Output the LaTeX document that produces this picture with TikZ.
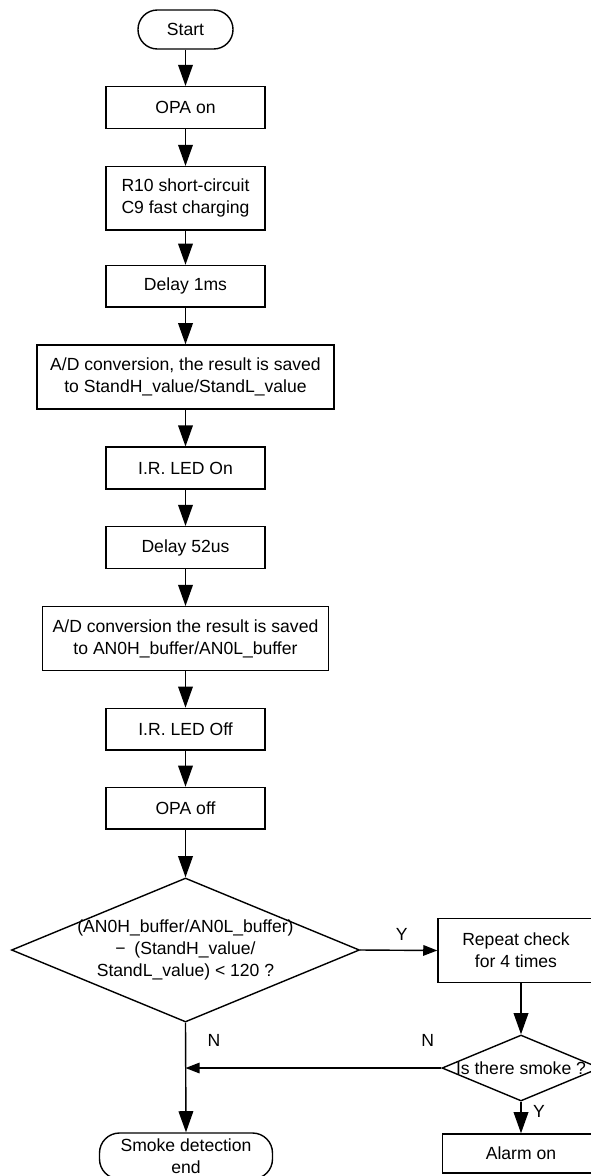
\documentclass[tikz,border=0pt]{standalone}
\usepackage{fontspec}
\setmainfont{Liberation Sans}
\usetikzlibrary{arrows.meta,shapes.geometric}

\tikzset{
	proc/.style={draw, line width=1.2pt, minimum width=4.77cm, minimum height=1.25cm, inner sep=0pt, align=center},
	term/.style={draw, line width=1.2pt, rounded corners=0.58cm, minimum width=2.85cm, minimum height=1.17cm, inner sep=0pt, align=center},
	decision/.style={draw, diamond, line width=1.2pt, inner sep=0pt},
	flow/.style={line width=1.2pt, -{Triangle[length=18pt, width=12.5pt]}},
	sideflow/.style={line width=1.2pt, -{Triangle[length=12pt, width=9pt]}},
	mark label/.style={inner sep=0pt}
}

\begin{document}
\begin{tikzpicture}[x=0.03cm, y=-0.03cm, font=\fontsize{15}{18.8}\selectfont]
		%%%%% START %%%%%
		
		\clip (0, 0) rectangle (591, 1176);
		\fill[white] (0, 0) rectangle (591, 1176);
		
		\node[term] (start) at (185.5, 29.5) {Start};
		\node[proc] (opaon) at (185.5, 107.5) {OPA on};
		\node[proc, minimum height=1.9cm] (r10) at (185.5, 198.3) {R10 short-circuit\\C9 fast charging};
		\node[proc] (delayms) at (185.5, 286.3) {Delay 1ms};
		\node[proc, minimum width=8.91cm, minimum height=1.92cm] (adcstand) at (185.5, 377) {A/D conversion, the result is saved\\to StandH\_value/StandL\_value};
		\node[proc] (ledon) at (185.5, 468) {I.R. LED On};
		\node[proc] (delayus) at (185.5, 547.5) {Delay 52us};
		\node[proc, minimum width=8.57cm, minimum height=1.92cm] (adcbuf) at (185.5, 638.7) {A/D conversion the result is saved\\to AN0H\_buffer/AN0L\_buffer};
		\node[proc] (ledoff) at (185.5, 729.2) {I.R. LED Off};
		\node[proc] (opaoff) at (185.5, 808.3) {OPA off};
		
		\node[decision, minimum width=10.44cm, minimum height=4.32cm] (cmp) at (185.5, 950) {};
		\node[align=center, inner sep=0pt] (cmptext) at (cmp.center) {(AN0H\_buffer/AN0L\_buffer)\\−\enspace(StandH\_value/\\StandL\_value) < 120 ?};
		
		\node[proc, minimum width=4.68cm, minimum height=1.93cm] (repeat) at (516, 950.5) {Repeat check\\for 4 times};
		\node[decision, minimum width=4.74cm, minimum height=1.98cm] (smoke) at (521, 1068) {};
		\node[inner sep=0pt] (smoketext) at (smoke.center) {Is there smoke ?};
		\node[proc, minimum width=4.7cm, minimum height=1.17cm] (alarm) at (521, 1153.5) {Alarm on};
		\node[term, minimum width=5.19cm, minimum height=1.38cm, rounded corners=0.6cm] (stop) at (186, 1156) {Smoke detection\\end};
		
		% main column
		\draw[flow] (start) -- (opaon);
		\draw[flow] (opaon) -- (r10);
		\draw[flow] (r10) -- (delayms);
		\draw[flow] (delayms) -- (adcstand);
		\draw[flow] (adcstand) -- (ledon);
		\draw[flow] (ledon) -- (delayus);
		\draw[flow] (delayus) -- (adcbuf);
		\draw[flow] (adcbuf) -- (ledoff);
		\draw[flow] (ledoff) -- (opaoff);
		\draw[flow] (opaoff) -- (cmp);
		
		% branches
		\draw[sideflow] (cmp.east) -- (repeat.west);
		\draw[flow] (repeat.south -| smoke.north) -- (smoke.north);
		\draw[flow] (smoke.south) -- (alarm.north);
		\coordinate (join) at (cmp.south |- smoke.west);
		\draw[sideflow] (smoke.west) -- (join);
		\draw[flow] (cmp.south) -- (stop.north);
		
		\node[mark label] (ycmp) at (401.7, 934) {Y};
		\node[mark label] (ncmp) at (214, 1040) {N};
		\node[mark label] (nsmoke) at (427.7, 1040) {N};
		\node[mark label] (ysmoke) at (539, 1111.7) {Y};
		
		%%%%% END %%%%%
\end{tikzpicture}
\end{document}
